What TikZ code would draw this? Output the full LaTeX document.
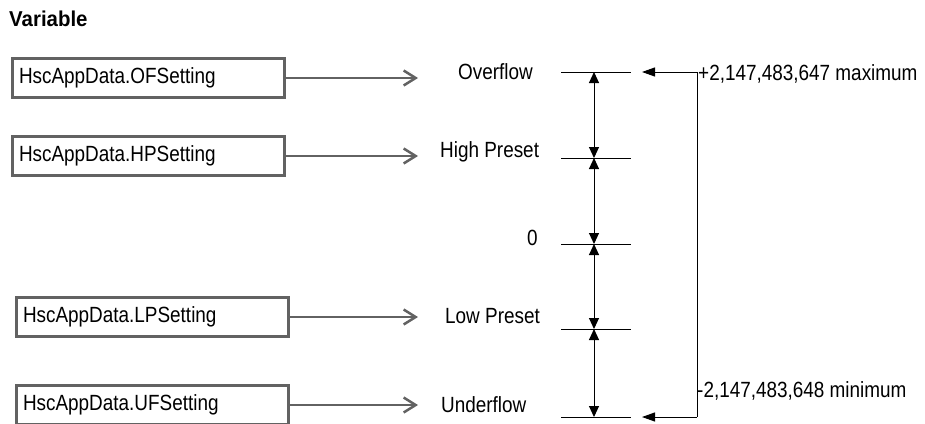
\documentclass[tikz,border=0pt]{standalone}
\usepackage{fontspec}
\setmainfont{Liberation Sans}[FakeStretch=0.86]
\newfontfamily\headfont{Liberation Sans}[FakeStretch=0.95]
\usepackage{tikz}
\usetikzlibrary{arrows.meta,positioning,calc}
\definecolor{boxgray}{HTML}{626262}

\begin{document}
\begin{tikzpicture}[x=1pt,y=-1pt,
    every node/.style={font=\fontsize{22}{26}\selectfont},
    varbox/.style={draw=boxgray,line width=3pt,minimum height=39pt,text width=258pt,
      inner xsep=7pt,align=left,anchor=west},
    feed/.style={draw=boxgray,line width=2.5pt,-{Straight Barb[length=12pt,width=15pt]}},
    span/.style={draw=black,line width=1pt,{Triangle[length=11pt,width=10pt]}-{Triangle[length=11pt,width=10pt]}},
    lim/.style={draw=black,line width=1pt,-{Triangle[length=13pt,width=9pt]}}]
  \useasboundingbox (0,0) rectangle (925,423);
  \clip (0,0) rectangle (925,423);
  \node[anchor=base west,inner sep=0pt,font=\fontsize{21.5}{25}\headfont\bfseries] (title) at (9,27) {Variable};
  % tag boxes
  \node[varbox] (ofbox) at (10.5,78) {HscAppData.OFSetting};
  \node[varbox] (hpbox) at (10.5,156) {HscAppData.HPSetting};
  \node[varbox] (lpbox) at (14.5,317) {HscAppData.LPSetting};
  \node[varbox] (ufbox) at (14.5,405) {HscAppData.UFSetting};
  % value names
  \node[anchor=west,inner sep=0pt] (oflbl) at (458,72) {Overflow};
  \node[anchor=west,inner sep=0pt] (hplbl) at (440,152) {High Preset};
  \node[anchor=west,inner sep=0pt] (zerolbl) at (527,238) {0};
  \node[anchor=west,inner sep=0pt] (lplbl) at (445,316) {Low Preset};
  \node[anchor=west,inner sep=0pt] (uflbl) at (441,405) {Underflow};
  \coordinate (ofend) at (418,78);
  \coordinate (hpend) at (418,156);
  \coordinate (lpend) at (418,317);
  \coordinate (ufend) at (418,405);
  \draw[feed] (ofbox) -- (ofend);
  \draw[feed] (hpbox) -- (hpend);
  \draw[feed] (lpbox) -- (lpend);
  \draw[feed] (ufbox) -- (ufend);
  % scale marks
  \foreach \n/\y in {1/72,2/158,3/244,4/329,5/417}{
    \coordinate (t\n) at (594,\y);
    \draw[line width=1pt] ($(t\n)+(-33,0)$) -- ($(t\n)+(37,0)$);
  }
  \foreach \a/\b in {1/2,2/3,3/4,4/5}
    \draw[span] (t\a) -- (t\b);
  % range bracket
  \coordinate (maxend) at (642,72);
  \coordinate (minend) at (642,417);
  \coordinate (rtop) at (697,72);
  \coordinate (rbot) at (697,417);
  \draw[line width=1pt] (rtop) -- (rbot);
  \draw[lim] (rtop) -- (maxend);
  \draw[lim] (rbot) -- (minend);
  \node[anchor=west,inner sep=0pt] (maxlbl) at (698,74) {+2,147,483,647 maximum};
  \node[anchor=west,inner sep=0pt] (minlbl) at (697,391) {-2,147,483,648 minimum};
\end{tikzpicture}
\end{document}
